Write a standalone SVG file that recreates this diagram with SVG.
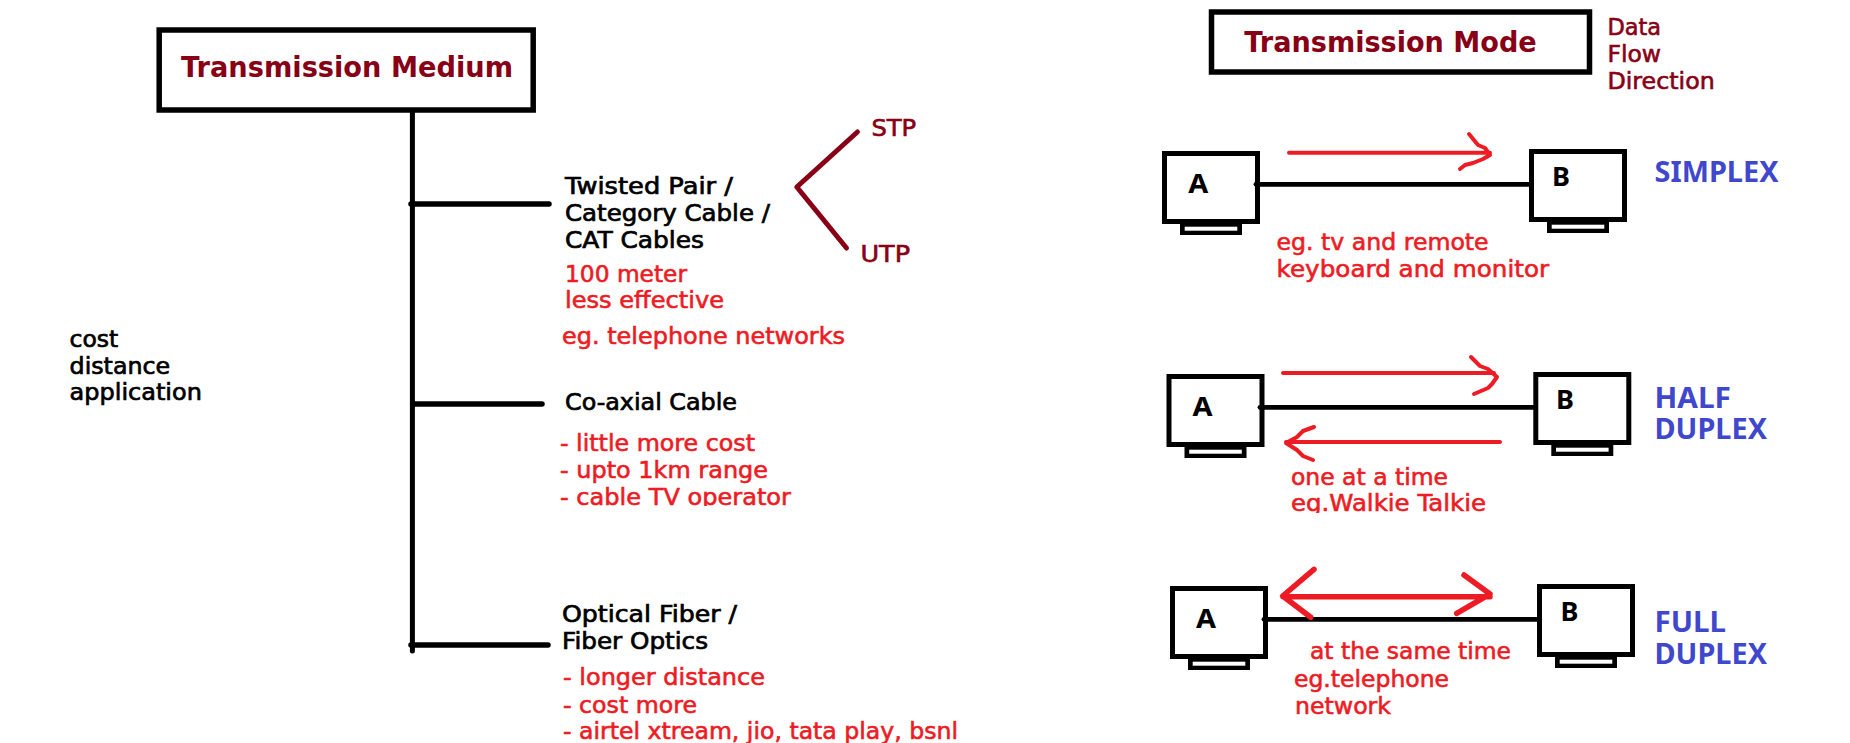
<svg xmlns="http://www.w3.org/2000/svg" width="1850" height="743" viewBox="0 0 1850 743">
<style>
text{font-family:"DejaVu Sans","Noto Sans",sans-serif;font-size:23px}
.k{fill:#000;stroke:#000;stroke-width:.7}
.r{fill:#ed1c24;stroke:#ed1c24;stroke-width:.6}
.d{fill:#880015;stroke:#880015;stroke-width:.6}
.b{fill:#3f48cc;font-family:"Noto Sans","DejaVu Sans",sans-serif;font-size:28px;font-weight:700}
.t{fill:#880015;font-size:27.500px;font-weight:700}
.n{fill:#000;font-family:"Noto Sans","DejaVu Sans",sans-serif;font-size:27px;font-weight:700}
.box{fill:#fff;stroke:#000;stroke-width:5.500}
.pcb{fill:#fff;stroke:#000;stroke-width:5}
.blk{fill:none;stroke:#000;stroke-width:5.500;stroke-linecap:round}
.trunk{stroke-width:5}
.thin{stroke-width:4.800}
.mar{fill:none;stroke:#880015;stroke-width:5;stroke-linecap:round;stroke-linejoin:round}
.red{fill:none;stroke:#ed1c24;stroke-width:4;stroke-linecap:round;stroke-linejoin:round}
.redb{fill:none;stroke:#ed1c24;stroke-width:5.500;stroke-linecap:round;stroke-linejoin:round}
</style>
<defs>
<g id="pc">
<rect class="pcb" x="2.500" y="2.500" width="93" height="68"/>
<rect x="18" y="73" width="62" height="11" fill="#000"/>
<rect x="22.700" y="75.700" width="52.600" height="4" fill="#fff"/>
</g>
<clipPath id="c1"><rect x="550" y="480" width="300" height="26"/></clipPath>
<clipPath id="c2"><rect x="1280" y="490" width="230" height="23"/></clipPath>
</defs>
<rect width="1850" height="743" fill="#fff"/>
<g id="simplex-a"><use href="#pc" x="1162" y="151"/><text class="n" x="1188.300" y="192.500" textLength="20" lengthAdjust="spacingAndGlyphs">A</text></g>
<g id="simplex-b"><use href="#pc" x="1529" y="149"/><text class="n" x="1552" y="185.500">B</text></g>
<g id="half-a"><use href="#pc" x="1166.500" y="374"/><text class="n" x="1192.600" y="415.500" textLength="20" lengthAdjust="spacingAndGlyphs">A</text></g>
<g id="half-b"><use href="#pc" x="1533.300" y="372"/><text class="n" x="1556" y="408.700">B</text></g>
<g id="full-a"><use href="#pc" x="1170" y="586"/><text class="n" x="1196" y="628" textLength="20" lengthAdjust="spacingAndGlyphs">A</text></g>
<g id="full-b"><use href="#pc" x="1537" y="584"/><text class="n" x="1560.500" y="620.500">B</text></g>
<g id="connectors">
<path class="blk trunk" d="M412.400 113V651"/>
<path class="blk" d="M411 204H549"/>
<path class="blk" d="M413 404H542"/>
<path class="blk" d="M411 645H548"/>
<path class="mar" d="M857.400 132L796.800 187L846.500 248"/>
<path class="blk thin" d="M1256 184.300H1529"/>
<path class="blk thin" d="M1260 407.300H1533"/>
<path class="blk thin" d="M1264 619.300H1537"/>
<path class="red" d="M1289 152.700H1490M1469 134L1478 145L1485 148L1490 155L1483 159L1473 163L1465 165L1460 169"/>
<path class="red" d="M1283 373H1494M1471 357L1480 366L1488 369L1497 377L1492 384L1488 388L1474 394"/>
<path class="red" d="M1500 442H1286M1314 427L1303 431L1297 437L1286 443L1297 450L1303 456L1313 460"/>
<path class="redb" d="M1283 596.700H1490M1314 569.300L1282.700 596L1310.700 617.300M1464 575L1490 594L1456.700 613.300"/>
</g>
<g id="medium">
<rect class="box" x="159.200" y="30" width="374" height="80"/>
<text class="t" x="181" y="77" textLength="332" lengthAdjust="spacingAndGlyphs">Transmission Medium</text>
</g>
<g id="criteria">
<text class="k" x="69.600" y="347" textLength="48.700" lengthAdjust="spacingAndGlyphs">cost</text>
<text class="k" x="69.600" y="374" textLength="100.500" lengthAdjust="spacingAndGlyphs">distance</text>
<text class="k" x="69.600" y="400" textLength="132.300" lengthAdjust="spacingAndGlyphs">application</text>
</g>
<g id="twisted">
<text class="k" x="565" y="194" textLength="168" lengthAdjust="spacingAndGlyphs">Twisted Pair /</text>
<text class="k" x="565" y="221" textLength="205" lengthAdjust="spacingAndGlyphs">Category Cable /</text>
<text class="k" x="565" y="248" textLength="139" lengthAdjust="spacingAndGlyphs">CAT Cables</text>
<text class="r" x="565" y="282" textLength="122" lengthAdjust="spacingAndGlyphs">100 meter</text>
<text class="r" x="565" y="308" textLength="159" lengthAdjust="spacingAndGlyphs">less effective</text>
<text class="r" x="562" y="344" textLength="283" lengthAdjust="spacingAndGlyphs">eg. telephone networks</text>
</g>
<g id="stp"><text class="d" x="871.400" y="136" textLength="44.800" lengthAdjust="spacingAndGlyphs">STP</text></g>
<g id="utp"><text class="d" x="860.400" y="262" textLength="49.700" lengthAdjust="spacingAndGlyphs">UTP</text></g>
<g id="coaxial">
<text class="k" x="565" y="410" textLength="172" lengthAdjust="spacingAndGlyphs">Co-axial Cable</text>
<text class="r" x="560" y="451" textLength="195" lengthAdjust="spacingAndGlyphs">- little more cost</text>
<text class="r" x="560" y="478" textLength="208" lengthAdjust="spacingAndGlyphs">- upto 1km range</text>
<text class="r" x="560" y="505" textLength="231" lengthAdjust="spacingAndGlyphs" clip-path="url(#c1)">- cable TV operator</text>
</g>
<g id="fiber">
<text class="k" x="562" y="622" textLength="175" lengthAdjust="spacingAndGlyphs">Optical Fiber /</text>
<text class="k" x="562" y="649" textLength="146" lengthAdjust="spacingAndGlyphs">Fiber Optics</text>
<text class="r" x="563" y="685" textLength="202" lengthAdjust="spacingAndGlyphs">- longer distance</text>
<text class="r" x="563" y="713" textLength="134" lengthAdjust="spacingAndGlyphs">- cost more</text>
<text class="r" x="563" y="739" textLength="395" lengthAdjust="spacingAndGlyphs">- airtel xtream, jio, tata play, bsnl</text>
</g>
<g id="mode">
<rect class="box" x="1211.500" y="12" width="378" height="60"/>
<text class="t" x="1244.300" y="52" textLength="292.400" lengthAdjust="spacingAndGlyphs">Transmission Mode</text>
</g>
<g id="flow">
<text class="d" x="1607.400" y="35" textLength="53.700" lengthAdjust="spacingAndGlyphs">Data</text>
<text class="d" x="1607.400" y="62" textLength="53.700" lengthAdjust="spacingAndGlyphs">Flow</text>
<text class="d" x="1607.400" y="89" textLength="107.400" lengthAdjust="spacingAndGlyphs">Direction</text>
</g>
<g id="simplex"><text class="b" x="1654.500" y="182" textLength="124" lengthAdjust="spacingAndGlyphs">SIMPLEX</text>
<text class="r" x="1276.600" y="250" textLength="212" lengthAdjust="spacingAndGlyphs">eg. tv and remote</text>
<text class="r" x="1276.600" y="277" textLength="272.500" lengthAdjust="spacingAndGlyphs">keyboard and monitor</text></g>
<g id="half"><text class="b" x="1654.500" y="407.700" textLength="76.500" lengthAdjust="spacingAndGlyphs">HALF</text>
<text class="b" x="1654.500" y="439.300" textLength="112.500" lengthAdjust="spacingAndGlyphs">DUPLEX</text>
<text class="r" x="1291" y="485" textLength="157" lengthAdjust="spacingAndGlyphs">one at a time</text>
<text class="r" x="1291" y="511" textLength="195" lengthAdjust="spacingAndGlyphs" clip-path="url(#c2)">eg.Walkie Talkie</text></g>
<g id="full"><text class="b" x="1654.500" y="631.500" textLength="71.500" lengthAdjust="spacingAndGlyphs">FULL</text>
<text class="b" x="1654.500" y="663.500" textLength="112.500" lengthAdjust="spacingAndGlyphs">DUPLEX</text>
<text class="r" x="1310" y="659" textLength="201" lengthAdjust="spacingAndGlyphs">at the same time</text>
<text class="r" x="1294" y="687" textLength="155" lengthAdjust="spacingAndGlyphs">eg.telephone</text>
<text class="r" x="1295" y="714" textLength="96" lengthAdjust="spacingAndGlyphs">network</text></g>
</svg>
